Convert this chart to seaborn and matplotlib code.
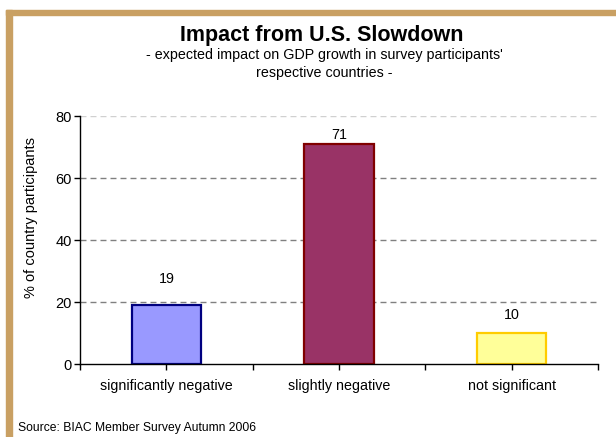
import matplotlib
matplotlib.use("Agg")
import matplotlib.pyplot as plt
from matplotlib.patches import Rectangle
from matplotlib.ticker import FixedLocator
import seaborn as sns
import pandas as pd

# Survey results
categories = ["significantly negative", "slightly negative", "not significant"]
shares = [19, 71, 10]

fill_colors = ["#9999FF", "#993366", "#FFFF99"]
edge_colors = ["#000080", "#800000", "#FFCC00"]
label_offsets_px = [26, 9, 18]

y_ticks = [0, 20, 40, 60, 80]

df = pd.DataFrame({"category": categories, "share": shares})

sns.set_theme(style="white")
plt.rcParams["font.family"] = ["Liberation Sans", "DejaVu Sans"]
plt.rcParams["text.color"] = "black"
plt.rcParams["axes.labelcolor"] = "black"
plt.rcParams["xtick.color"] = "black"
plt.rcParams["ytick.color"] = "black"

W, H = 616, 437
fig = plt.figure(figsize=(W / 100, H / 100), dpi=100)
ax = fig.add_axes([80 / W, 1 - 364 / H, (598 - 80) / W, (364 - 116) / H])

sns.barplot(data=df, x="category", y="share", hue="category",
            palette=fill_colors, order=categories, hue_order=categories,
            width=0.4, legend=False, ax=ax, saturation=1)

for patch, ec in zip(ax.patches, edge_colors):
    patch.set_edgecolor(ec)
    patch.set_linewidth(1.6)

# Value labels above bars
for i, (val, off) in enumerate(zip(shares, label_offsets_px)):
    ax.annotate(f"{val}", xy=(i, val), xytext=(0, off * 0.72),
                textcoords="offset points", ha="center", va="center",
                fontsize=10.3, color="black")

ax.set_xlim(-0.5, len(categories) - 0.5)
ax.set_ylim(0, 80)
ax.set_yticks(y_ticks)
ax.set_yticklabels([str(t) for t in y_ticks])

# Dashed horizontal gridlines
for t in y_ticks[1:]:
    ax.axhline(t, color="#D0D0D0" if t == 80 else "#808080", lw=1.0,
               linestyle=(0, (4.3, 2.9)), zorder=0)

ax.set_xticks(range(len(categories)))
ax.set_xticklabels(categories, fontsize=10.3)
ax.xaxis.set_minor_locator(FixedLocator([-0.5, 0.5, 1.5, 2.5]))
ax.tick_params(axis="x", which="both", direction="out", length=4, width=1,
               color="black", bottom=True, pad=7)
ax.tick_params(axis="y", direction="out", length=4, width=1, color="black",
               left=True, labelsize=10.5, pad=2)
ax.set_xlabel("")
ax.set_ylabel("% of country participants", fontsize=10.5)
ax.yaxis.set_label_coords((38 - 80) / 518, (364 - 218) / 248)

for side in ["top", "right"]:
    ax.spines[side].set_visible(False)
for side in ["left", "bottom"]:
    ax.spines[side].set_color("black")
    ax.spines[side].set_linewidth(1.0)

# Titles
fig.text(322 / W, 1 - 35 / H, "Impact from U.S. Slowdown", ha="center",
         va="center", fontsize=15.5, fontweight="bold")
fig.text(324 / W, 1 - 55 / H,
         "- expected impact on GDP growth in survey participants'",
         ha="center", va="center", fontsize=10.3)
fig.text(324 / W, 1 - 73 / H, "respective countries -", ha="center",
         va="center", fontsize=10.3)

fig.text(18 / W, 1 - 428 / H, "Source: BIAC Member Survey Autumn 2006",
         ha="left", va="center", fontsize=8.7)

# Frame around the chart
border = "#C9A063"
fig.patches.append(Rectangle((6 / W, 0), 6 / W, 1 - 10 / H,
                             transform=fig.transFigure, color=border, zorder=0))
fig.patches.append(Rectangle((6 / W, 1 - 15 / H), 1 - 6 / W, 5 / H,
                             transform=fig.transFigure, color=border, zorder=0))

fig.savefig("out.png", dpi=100)
